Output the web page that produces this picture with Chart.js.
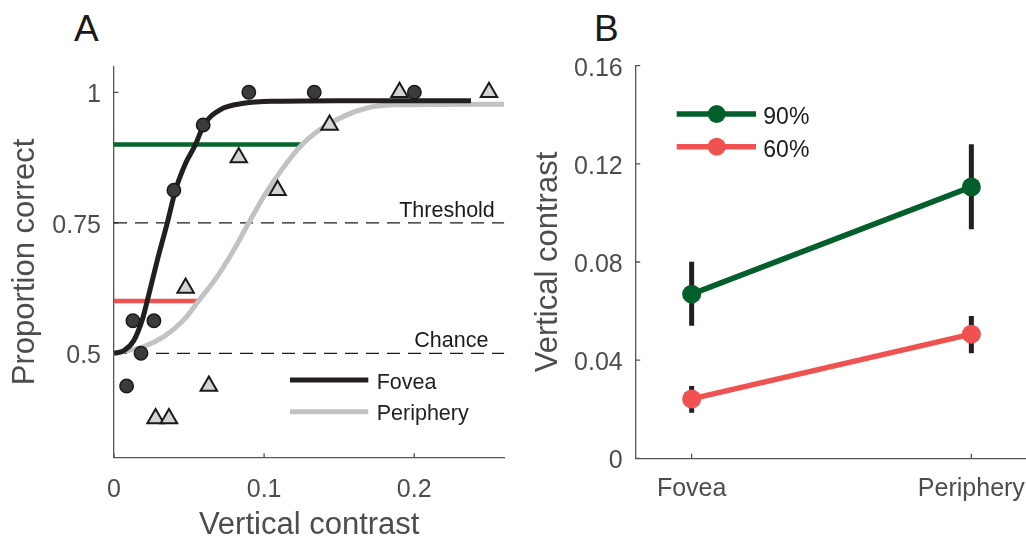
<!DOCTYPE html>
<html>
<head>
<meta charset="utf-8">
<script src="https://cdn.jsdelivr.net/npm/chart.js@4.4.1/dist/chart.umd.min.js"></script>
<style>
  html, body { margin: 0; padding: 0; background: #fff; }
  body { width: 1026px; height: 542px; position: relative; overflow: hidden; font-family: "Liberation Sans", Arial, sans-serif; }
  canvas { position: absolute; top: 0; }
  #chartA { left: 0; }
  #chartB { left: 520px; }
  .panel { position: absolute; font-size: 37px; line-height: 1; color: #1a1a1a; }
</style>
</head>
<body>
<div class="panel" style="left:74px; top:9.5px;">A</div>
<div class="panel" style="left:594px; top:9.5px;">B</div>
<canvas id="chartA" width="520" height="542"></canvas>
<canvas id="chartB" width="560" height="542"></canvas>
<script>
// ---- panel A: proportion correct vs vertical contrast ----
const foveaX = [0.0084, 0.0126, 0.018, 0.0266, 0.0399, 0.0594, 0.0898, 0.1334, 0.2001];
const foveaY = [0.4375, 0.5625, 0.5, 0.5625, 0.8125, 0.9375, 1, 1, 1];
const periX = [0.0277, 0.0366, 0.0477, 0.0632, 0.0831, 0.109, 0.1436, 0.1902, 0.2498];
const periY = [0.375, 0.375, 0.625, 0.4375, 0.875, 0.8125, 0.9375, 1, 1];

// fitted curves
const foveaFitX = [0, 0.0066, 0.0133, 0.0189, 0.0222, 0.0289, 0.0355, 0.041, 0.0477, 0.0543, 0.0598, 0.0709, 0.0864, 0.1086, 0.15, 0.2378];
const foveaFitY = [0.5, 0.505, 0.525, 0.565, 0.601, 0.679, 0.75, 0.813, 0.864, 0.9, 0.937, 0.967, 0.979, 0.983, 0.984, 0.984];
const periFitX = [0, 0.0199, 0.0332, 0.0465, 0.0565, 0.0687, 0.0798, 0.0898, 0.0997, 0.1108, 0.1253, 0.1419, 0.1685, 0.1906, 0.26];
const periFitY = [0.5, 0.513, 0.532, 0.564, 0.601, 0.647, 0.698, 0.75, 0.8, 0.848, 0.9, 0.937, 0.97, 0.976, 0.977];

const level90 = 0.9, level90End = 0.1253;
const level60 = 0.6, level60End = 0.0565;
const thresholdLevel = 0.75, chanceLevel = 0.5;

const xTicksA = [0, 0.1, 0.2];
const yTicksA = [0.5, 0.75, 1];

// ---- panel B: thresholds ----
const locations = ['Fovea', 'Periphery'];
const thr90 = [0.0669, 0.1106];
const thr90Lo = [0.054, 0.0933];
const thr90Hi = [0.0801, 0.128];
const thr60 = [0.0242, 0.0506];
const thr60Lo = [0.0186, 0.0428];
const thr60Hi = [0.0295, 0.058];
const yTicksB = [0, 0.04, 0.08, 0.12, 0.16];

const green = '#035f2b';
const red = '#ef5250';
const black = '#231f20';
const gray = '#c1c2c4';
const axisColor = '#555555';
const textColor = '#4d4d4d';

Chart.defaults.font.family = '"Liberation Sans", Arial, sans-serif';
Chart.defaults.animation = false;

const pts = (xs, ys) => xs.map((x, i) => ({x: x, y: ys[i]}));

const inwardTicks = {
  id: 'inwardTicks',
  beforeDatasetsDraw(chart) {
    const {ctx, chartArea, scales} = chart;
    ctx.save();
    ctx.strokeStyle = axisColor;
    ctx.lineWidth = 1.3;
    ctx.beginPath();
    scales.x.ticks.forEach(t => {
      const px = scales.x.getPixelForValue(t.value);
      ctx.moveTo(px, chartArea.bottom);
      ctx.lineTo(px, chartArea.bottom - 4.5);
    });
    scales.y.ticks.forEach(t => {
      const py = scales.y.getPixelForValue(t.value);
      ctx.moveTo(chartArea.left, py);
      ctx.lineTo(chartArea.left + 4.5, py);
    });
    ctx.stroke();
    ctx.restore();
  }
};

const legendA = {
  id: 'legendA',
  afterDraw(chart) {
    const {ctx, scales} = chart;
    ctx.save();
    ctx.font = '21.5px "Liberation Sans", Arial, sans-serif';
    ctx.fillStyle = '#1a1a1a';
    ctx.textBaseline = 'alphabetic';
    ctx.fillText('Threshold', scales.x.getPixelForValue(0.19), scales.y.getPixelForValue(thresholdLevel) - 6);
    ctx.fillText('Chance', scales.x.getPixelForValue(0.2), scales.y.getPixelForValue(chanceLevel) - 6);

    const items = [['Fovea', black, 380, 389.3], ['Periphery', gray, 411.7, 420]];
    items.forEach(([label, col, ly, ty]) => {
      ctx.strokeStyle = col;
      ctx.lineWidth = 5;
      ctx.beginPath();
      ctx.moveTo(290, ly);
      ctx.lineTo(368.3, ly);
      ctx.stroke();
      ctx.fillStyle = '#222';
      ctx.fillText(label, 376.7, ty);
    });
    ctx.restore();
  }
};

const legendB = {
  id: 'legendB',
  afterDraw(chart) {
    const {ctx} = chart;
    ctx.save();
    ctx.font = '23px "Liberation Sans", Arial, sans-serif';
    ctx.textBaseline = 'alphabetic';
    const items = [['90%', green, 114, 124], ['60%', red, 146.7, 156.7]];
    items.forEach(([label, col, ly, ty]) => {
      ctx.strokeStyle = col;
      ctx.lineWidth = 5.5;
      ctx.beginPath();
      ctx.moveTo(156.7, ly);
      ctx.lineTo(236, ly);
      ctx.stroke();
      ctx.fillStyle = col;
      ctx.beginPath();
      ctx.arc(196.7, ly, 9, 0, Math.PI * 2);
      ctx.fill();
      ctx.fillStyle = '#1a1a1a';
      ctx.fillText(label, 243.3, ty);
    });
    ctx.restore();
  }
};

const lineSet = (data, color, width, extra) => Object.assign({
  data: data,
  showLine: true,
  borderColor: color,
  borderWidth: width,
  pointRadius: 0,
  pointHoverRadius: 0,
  borderCapStyle: 'butt',
  fill: false
}, extra || {});

new Chart(document.getElementById('chartA'), {
  type: 'scatter',
  data: {
    datasets: [
      {
        data: pts(foveaX, foveaY),
        pointStyle: 'circle',
        pointRadius: 6.7,
        pointBackgroundColor: '#3b3b3b',
        pointBorderColor: '#1a1a1a',
        pointBorderWidth: 1.5
      },
      {
        data: pts(periX, periY),
        pointStyle: 'triangle',
        pointRadius: 9.5,
        pointBackgroundColor: '#d1d3d4',
        pointBorderColor: '#1a1a1a',
        pointBorderWidth: 2
      },
      lineSet(pts(foveaFitX, foveaFitY), black, 5, {cubicInterpolationMode: 'monotone'}),
      lineSet(pts(periFitX, periFitY), gray, 5, {cubicInterpolationMode: 'monotone'}),
      lineSet([{x: 0, y: level90}, {x: level90End, y: level90}], '#06642e', 4.5),
      lineSet([{x: 0, y: level60}, {x: level60End, y: level60}], red, 4.5),
      lineSet([{x: 0, y: thresholdLevel}, {x: 0.26, y: thresholdLevel}], '#1a1a1a', 1.3, {borderDash: [13, 8]}),
      lineSet([{x: 0, y: chanceLevel}, {x: 0.26, y: chanceLevel}], '#1a1a1a', 1.3, {borderDash: [13, 8]})
    ]
  },
  options: {
    responsive: false,
    devicePixelRatio: 1,
    layout: {padding: {top: 66.2, right: 15.7, left: 0, bottom: 0}},
    plugins: {legend: {display: false}, tooltip: {enabled: false}},
    scales: {
      x: {
        type: 'linear',
        min: 0,
        max: 0.26,
        afterBuildTicks: s => { s.ticks = xTicksA.map(v => ({value: v})); },
        afterFit: s => { s.height = 84.3; },
        grid: {display: false, drawTicks: false},
        border: {color: axisColor, width: 1.3},
        ticks: {padding: 17, color: textColor, font: {size: 25}, callback: v => String(v)},
        title: {display: true, text: 'Vertical contrast', color: textColor, font: {size: 31}, padding: {top: 0, bottom: -2.5}}
      },
      y: {
        type: 'linear',
        min: 0.3,
        max: 1.05,
        afterBuildTicks: s => { s.ticks = yTicksA.map(v => ({value: v})); },
        afterFit: s => { s.width = 114; },
        grid: {display: false, drawTicks: false},
        border: {color: axisColor, width: 1.3},
        ticks: {padding: 13, labelOffset: 3, color: textColor, font: {size: 25}, callback: v => String(v)},
        title: {display: true, text: 'Proportion correct', color: textColor, font: {size: 31}, padding: {top: 7, bottom: 0}}
      }
    }
  },
  plugins: [inwardTicks, legendA]
});

// ---- panel B ----
const errorBars = [];
[[thr90Lo, thr90Hi], [thr60Lo, thr60Hi]].forEach(([lo, hi]) => {
  locations.forEach((loc, i) => {
    errorBars.push(lineSet([{x: i + 1, y: lo[i]}, {x: i + 1, y: hi[i]}], black, 5));
  });
});

const seriesSet = (vals, color) => ({
  data: vals.map((v, i) => ({x: i + 1, y: v})),
  showLine: true,
  borderColor: color,
  borderWidth: 5.5,
  pointRadius: 9.5,
  pointBackgroundColor: color,
  pointBorderColor: color,
  pointBorderWidth: 0,
  fill: false
});

new Chart(document.getElementById('chartB'), {
  type: 'scatter',
  data: {
    datasets: [seriesSet(thr90, green), seriesSet(thr60, red)].concat(errorBars)
  },
  options: {
    responsive: false,
    devicePixelRatio: 1,
    layout: {padding: {top: 65.7, right: 52.7, left: 0, bottom: 0}},
    plugins: {legend: {display: false}, tooltip: {enabled: false}},
    scales: {
      x: {
        type: 'linear',
        min: 0.8,
        max: 2.2,
        afterBuildTicks: s => { s.ticks = locations.map((l, i) => ({value: i + 1})); },
        afterFit: s => { s.height = 83.7; },
        grid: {display: false, drawTicks: false},
        border: {color: axisColor, width: 1.3},
        ticks: {padding: 16, color: textColor, font: {size: 25}, callback: v => locations[Math.round(v) - 1]}
      },
      y: {
        type: 'linear',
        min: 0,
        max: 0.16,
        afterBuildTicks: s => { s.ticks = yTicksB.map(v => ({value: v})); },
        afterFit: s => { s.width = 115.7; },
        grid: {display: false, drawTicks: false},
        border: {color: axisColor, width: 1.3},
        ticks: {padding: 13, labelOffset: 3, color: textColor, font: {size: 25}, callback: v => String(v)},
        title: {display: true, text: 'Vertical contrast', color: textColor, font: {size: 31}, padding: {top: 9.5, bottom: 0}}
      }
    }
  },
  plugins: [inwardTicks, legendB]
});
</script>
</body>
</html>
